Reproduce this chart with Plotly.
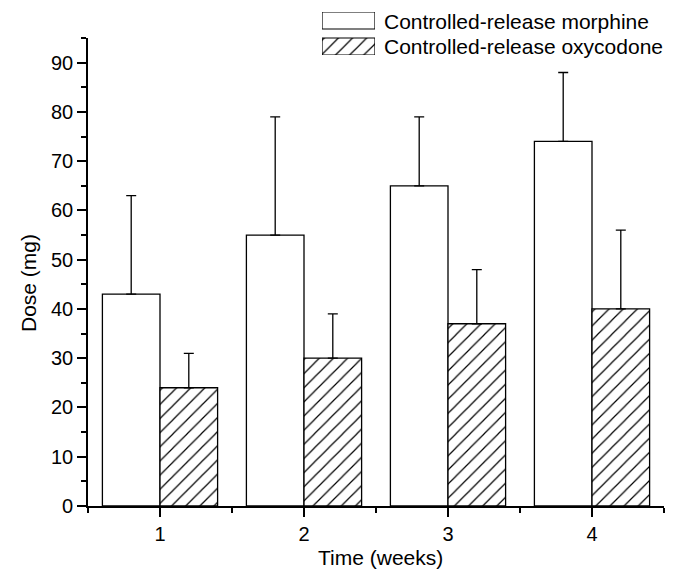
import plotly.graph_objects as go

weeks = [1, 2, 3, 4]
morphine = [43, 55, 65, 74]
morphine_err = [20, 24, 14, 14]
oxycodone = [24, 30, 37, 40]
oxycodone_err = [7, 9, 11, 16]
series_names = ["Controlled-release morphine", "Controlled-release oxycodone"]

FONT = "Liberation Sans, Arial, Helvetica, sans-serif"
BAR_W = 0.4
HATCH = dict(shape="/", size=10, solidity=0.12, fgcolor="black", fgopacity=1,
             bgcolor="white", fillmode="replace")

fig = go.Figure()

fig.add_trace(go.Bar(
    x=weeks, y=morphine, width=BAR_W, offset=-BAR_W,
    marker=dict(color="white", line=dict(color="black", width=1.3)),
    error_y=dict(type="data", array=morphine_err, arrayminus=[0] * 4, symmetric=False,
                 color="black", thickness=1.3, width=5),
    name=series_names[0], showlegend=False,
))
fig.add_trace(go.Bar(
    x=weeks, y=oxycodone, width=BAR_W, offset=0,
    marker=dict(color="black", line=dict(color="black", width=1.3), pattern=HATCH),
    error_y=dict(type="data", array=oxycodone_err, arrayminus=[0] * 4, symmetric=False,
                 color="black", thickness=1.3, width=5),
    name=series_names[1], showlegend=False,
))

# legend swatches drawn on a small hidden axis pair
fig.add_trace(go.Bar(
    x=[1], y=[1], orientation="h", width=0.654, xaxis="x2", yaxis="y2",
    marker=dict(color="white", line=dict(color="black", width=1.2)),
    showlegend=False, hoverinfo="skip",
))
fig.add_trace(go.Bar(
    x=[1], y=[0], orientation="h", width=0.654, xaxis="x2", yaxis="y2",
    marker=dict(color="black", line=dict(color="black", width=1.2), pattern=HATCH),
    showlegend=False, hoverinfo="skip",
))

# page body has an 8px margin; build the figure so it lands where the reference is
OFF = 8
W, H = 678 - OFF, 569 - OFF
ML, MR, MT, MB = 88 - OFF, 14, 10 - OFF, 63
PW, PH = W - ML - MR, H - MT - MB

def px_x(p):
    return (p - OFF - ML) / PW

def px_y(p):
    return (H - MB - (p - OFF)) / PH

annotations = [
    dict(text=series_names[0], x=px_x(382), y=px_y(21), xref="paper", yref="paper",
         xanchor="left", yanchor="middle", showarrow=False, font=dict(size=21)),
    dict(text=series_names[1], x=px_x(382), y=px_y(47), xref="paper", yref="paper",
         xanchor="left", yanchor="middle", showarrow=False, font=dict(size=21)),
    dict(text="Time (weeks)", x=px_x(380.5), y=px_y(557), xref="paper", yref="paper",
         xanchor="center", yanchor="middle", showarrow=False, font=dict(size=21)),
    dict(text="Dose (mg)", x=px_x(28), y=px_y(283), xref="paper", yref="paper",
         xanchor="center", yanchor="middle", showarrow=False, textangle=-90, font=dict(size=21)),
]

fig.update_layout(
    width=W, height=H,
    margin=dict(l=ML, r=MR, t=MT, b=MB, pad=0),
    paper_bgcolor="white", plot_bgcolor="white",
    font=dict(family=FONT, size=20, color="black"),
    barmode="overlay",
    showlegend=False,
    annotations=annotations,
    xaxis=dict(
        range=[0.5, 4.5], tickvals=weeks, ticktext=[str(w) for w in weeks],
        showline=True, linecolor="black", linewidth=1.6, ticks="outside", ticklen=9,
        tickwidth=1.6, tickcolor="black", showgrid=False, zeroline=False,
        minor=dict(tick0=0.5, dtick=0.5, ticks="outside", ticklen=5, tickwidth=1.6, tickcolor="black"),
        anchor="y",
    ),
    yaxis=dict(
        range=[0, 95], dtick=10, domain=[0, px_y(38)],
        showline=True, linecolor="black", linewidth=1.6, ticks="outside", ticklen=9,
        tickwidth=1.6, tickcolor="black", showgrid=False, zeroline=False,
        minor=dict(dtick=5, ticks="outside", ticklen=5, tickwidth=1.6, tickcolor="black"),
        anchor="x",
    ),
    xaxis2=dict(domain=[px_x(322), px_x(375)], range=[0, 1], visible=False, anchor="y2"),
    yaxis2=dict(domain=[px_y(55), px_y(12)], range=[-0.327, 1.327], visible=False, anchor="x2"),
)

fig.write_html("out.html")
